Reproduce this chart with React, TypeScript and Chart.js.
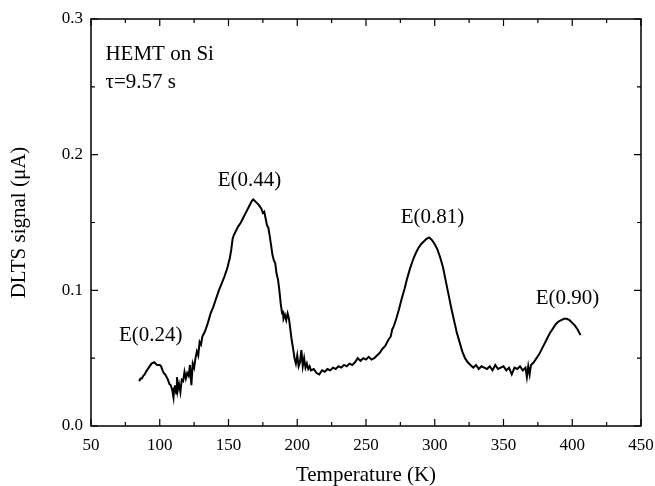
import React, { useEffect, useRef } from "react";
import { Chart, registerables } from "chart.js";

Chart.register(...registerables);

const temperature: number[] = [
  85, 86, 87, 88, 89, 90, 92, 94, 96, 97, 98, 100, 101, 102, 103, 104, 105, 106, 107, 108, 109, 110, 110.5, 111, 112, 112.5, 113, 114, 115, 116, 117, 118, 119, 120, 121, 122, 123, 124, 125, 126, 127, 128, 129, 130, 131, 133, 135, 137, 139, 141, 143, 145, 147, 149, 151, 152, 153, 154, 155, 157, 159, 161, 163, 165, 167, 168, 169, 170, 172, 174, 175, 176, 177, 178, 179, 180, 181, 182, 183, 184, 185, 186, 187, 188, 189, 189.5, 190, 191, 192, 193, 194, 195, 196, 197, 198, 199, 200, 201, 202, 203, 204, 205, 206, 207, 208, 209, 210, 212, 214, 216, 218, 220, 222, 224, 226, 228, 230, 232, 234, 236, 238, 240, 242, 244, 246, 248, 250, 252, 254, 256, 258, 260, 262, 264, 266, 268, 269, 270, 272, 274, 276, 278, 280, 282, 284, 286, 288, 290, 292, 294, 296, 298, 300, 302, 304, 306, 308, 310, 312, 314, 316, 318, 320, 322, 324, 326, 328, 330, 332, 334, 336, 338, 340, 342, 344, 346, 348, 350, 352, 354, 356, 358, 360, 362, 364, 366, 367, 368, 369, 370, 372, 374, 376, 378, 380, 382, 384, 386, 388, 390, 392, 394, 396, 398, 400, 402, 404, 406,
];

const signal: number[] = [
  0.033, 0.035, 0.035, 0.037, 0.038, 0.040, 0.043, 0.046, 0.047, 0.046, 0.045, 0.045, 0.044, 0.041, 0.039, 0.038, 0.036, 0.034, 0.031, 0.030, 0.027, 0.021, 0.028, 0.030, 0.024, 0.036, 0.026, 0.031, 0.025, 0.034, 0.033, 0.040, 0.035, 0.039, 0.037, 0.045, 0.030, 0.046, 0.043, 0.050, 0.055, 0.052, 0.062, 0.060, 0.066, 0.070, 0.076, 0.083, 0.088, 0.094, 0.100, 0.105, 0.110, 0.116, 0.124, 0.130, 0.138, 0.141, 0.143, 0.147, 0.150, 0.154, 0.158, 0.162, 0.166, 0.167, 0.166, 0.165, 0.163, 0.160, 0.157, 0.158, 0.153, 0.148, 0.146, 0.140, 0.133, 0.126, 0.122, 0.120, 0.112, 0.108, 0.100, 0.090, 0.083, 0.085, 0.079, 0.082, 0.078, 0.083, 0.079, 0.071, 0.063, 0.057, 0.050, 0.046, 0.052, 0.044, 0.047, 0.056, 0.044, 0.050, 0.043, 0.046, 0.042, 0.044, 0.041, 0.042, 0.039, 0.038, 0.041, 0.040, 0.042, 0.041, 0.043, 0.042, 0.044, 0.043, 0.045, 0.044, 0.046, 0.045, 0.047, 0.050, 0.048, 0.050, 0.049, 0.051, 0.049, 0.050, 0.052, 0.054, 0.057, 0.059, 0.063, 0.066, 0.071, 0.073, 0.079, 0.086, 0.094, 0.101, 0.109, 0.116, 0.122, 0.127, 0.131, 0.134, 0.136, 0.138, 0.139, 0.137, 0.134, 0.130, 0.124, 0.117, 0.107, 0.097, 0.087, 0.078, 0.069, 0.062, 0.055, 0.050, 0.047, 0.045, 0.043, 0.045, 0.042, 0.044, 0.043, 0.042, 0.044, 0.041, 0.045, 0.042, 0.043, 0.044, 0.041, 0.043, 0.038, 0.043, 0.042, 0.044, 0.041, 0.043, 0.036, 0.044, 0.038, 0.045, 0.047, 0.050, 0.053, 0.057, 0.061, 0.065, 0.069, 0.072, 0.075, 0.077, 0.078, 0.079, 0.079, 0.078, 0.076, 0.074, 0.071, 0.067,
];

const xTicks: number[] = [50, 100, 150, 200, 250, 300, 350, 400, 450];
const yTicks: number[] = [0, 0.1, 0.2, 0.3];

const noteTexts: string[] = ["HEMT on Si", "τ=9.57 s", "E(0.24)", "E(0.44)", "E(0.81)", "E(0.90)"];
const noteX: number[] = [60.5, 60.5, 93.5, 165.3, 298.4, 396.5];
const noteY: number[] = [0.274, 0.2535, 0.067, 0.1813, 0.154, 0.0943];
const noteAlign: CanvasTextAlign[] = ["left", "left", "center", "center", "center", "center"];

const FONT = "'Liberation Serif', 'Times New Roman', serif";

const framePlugin = {
  id: "frameTicks",
  afterDatasetsDraw(chart: any) {
    const { ctx, chartArea: a, scales } = chart;
    const xs = scales.x;
    const ys = scales.y;
    ctx.save();
    ctx.strokeStyle = "#000";
    ctx.lineWidth = 1.5;
    ctx.strokeRect(a.left, a.top, a.right - a.left, a.bottom - a.top);
    ctx.lineWidth = 1.2;
    ctx.beginPath();
    for (let v = 50; v <= 450; v += 25) {
      const px = xs.getPixelForValue(v);
      const len = v % 50 === 0 ? 7 : 4;
      ctx.moveTo(px, a.bottom);
      ctx.lineTo(px, a.bottom - len);
      ctx.moveTo(px, a.top);
      ctx.lineTo(px, a.top + len);
    }
    for (let i = 0; i <= 6; i++) {
      const v = i * 0.05;
      const py = ys.getPixelForValue(v);
      const len = i % 2 === 0 ? 7 : 4;
      ctx.moveTo(a.left, py);
      ctx.lineTo(a.left + len, py);
      ctx.moveTo(a.right, py);
      ctx.lineTo(a.right - len, py);
    }
    ctx.stroke();
    ctx.fillStyle = "#000";
    ctx.font = `21px ${FONT}`;
    ctx.textBaseline = "middle";
    for (let i = 0; i < noteTexts.length; i++) {
      ctx.textAlign = noteAlign[i];
      ctx.fillText(noteTexts[i], xs.getPixelForValue(noteX[i]), ys.getPixelForValue(noteY[i]));
    }
    ctx.restore();
  },
};

export default function App() {
  const ref = useRef<HTMLCanvasElement | null>(null);
  useEffect(() => {
    if (!ref.current) return;
    const points = temperature.map((t, i) => ({ x: t, y: signal[i] }));
    const chart = new Chart(ref.current, {
      type: "scatter",
      data: {
        datasets: [
          {
            data: points,
            showLine: true,
            borderColor: "#000",
            backgroundColor: "#000",
            borderWidth: 2,
            pointRadius: 0,
            tension: 0,
          },
        ],
      },
      options: {
        animation: false,
        responsive: false,
        maintainAspectRatio: false,
        layout: { padding: { top: 19, right: 14, left: 0, bottom: 0 } },
        plugins: { legend: { display: false }, tooltip: { enabled: false } },
        scales: {
          x: {
            type: "linear",
            min: 50,
            max: 450,
            afterBuildTicks: (s: any) => {
              s.ticks = xTicks.map((v) => ({ value: v }));
            },
            afterFit: (s: any) => {
              s.height = 60;
              s.paddingLeft = 0;
              s.paddingRight = 0;
            },
            grid: { display: false, drawTicks: false },
            border: { display: false },
            ticks: {
              color: "#000",
              font: { family: FONT, size: 17 },
              padding: 9,
              maxRotation: 0,
              callback: (v: any) => String(v),
            },
            title: {
              display: true,
              text: "Temperature (K)",
              color: "#000",
              font: { family: FONT, size: 21, lineHeight: 1 },
              padding: { top: 0, bottom: 0 },
            },
          },
          y: {
            type: "linear",
            min: 0,
            max: 0.3,
            afterBuildTicks: (s: any) => {
              s.ticks = yTicks.map((v) => ({ value: v }));
            },
            afterFit: (s: any) => {
              s.width = 91;
              s.paddingTop = 0;
              s.paddingBottom = 0;
            },
            grid: { display: false, drawTicks: false },
            border: { display: false },
            ticks: {
              color: "#000",
              font: { family: FONT, size: 17 },
              padding: 8,
              callback: (v: any) => Number(v).toFixed(1),
            },
            title: {
              display: true,
              text: "DLTS signal (μA)",
              color: "#000",
              font: { family: FONT, size: 21, lineHeight: 1 },
              padding: { top: 9, bottom: 0 },
            },
          },
        },
      },
      plugins: [framePlugin],
    });
    return () => chart.destroy();
  }, []);
  return (
    <div style={{ position: "fixed", left: 0, top: 0, width: 655, height: 486, background: "#fff" }}>
      <canvas ref={ref} width={655} height={486} style={{ width: 655, height: 486, display: "block" }} />
    </div>
  );
}
